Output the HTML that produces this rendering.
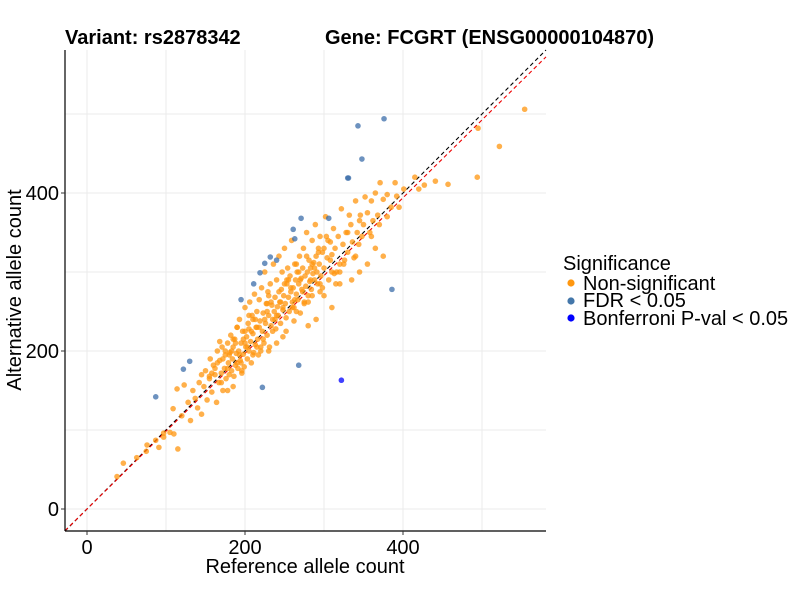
<!DOCTYPE html>
<html><head><meta charset="utf-8"><style>
body{margin:0;background:#fff;}
svg text{font-family:"Liberation Sans",Arial,sans-serif;}
</style></head><body>
<svg id="chart" width="800" height="600" xmlns="http://www.w3.org/2000/svg">
<rect width="800" height="600" fill="#fff"/>
<g id="grid"></g>
<g id="lines"></g>
<g id="pts"></g>
<g id="axes"></g>
<text x="65" y="44" font-size="20" font-weight="bold">Variant: rs2878342</text>
<text x="325" y="44" font-size="20" font-weight="bold">Gene: FCGRT (ENSG00000104870)</text>
<text x="305" y="573" font-size="20" text-anchor="middle">Reference allele count</text>
<text transform="translate(21,290) rotate(-90)" font-size="20" text-anchor="middle">Alternative allele count</text>
<g>
<text x="563" y="270" font-size="20">Significance</text>
<circle cx="571" cy="283" r="3.6" fill="#FF9710"/>
<text x="583" y="290" font-size="20">Non-significant</text>
<circle cx="571" cy="301" r="3.6" fill="#4477AA"/>
<text x="583" y="307" font-size="20">FDR &lt; 0.05</text>
<circle cx="571" cy="318" r="3.6" fill="#0000FF"/>
<text x="583" y="325" font-size="20">Bonferroni P-val &lt; 0.05</text>
</g>
</svg>
<script>
const orangeRef=[
38,46,63,75,76,87,91,97,97,105,
110,115,109,114,123,120,128,131,134,137,
140,142,145,148,150,152,155,156,158,160,
162,164,165,167,168,170,171,172,174,175,
176,178,179,180,181,182,183,184,185,186,
187,188,189,190,191,192,193,194,195,196,
197,198,199,200,201,202,203,204,205,206,
207,208,209,210,211,212,213,214,215,216,
217,218,219,220,221,222,223,224,225,226,
227,228,229,230,231,232,233,234,235,236,
237,238,239,240,241,242,243,244,245,246,
247,248,249,250,251,252,253,254,255,256,
257,258,259,260,261,262,263,264,265,266,
267,268,269,270,271,272,273,274,275,276,
277,278,279,280,281,282,283,284,285,286,
287,288,289,290,291,292,293,294,295,296,
298,300,302,304,306,308,310,312,314,316,
318,320,322,324,326,328,330,332,334,336,
338,340,342,344,346,348,350,352,355,358,
360,362,365,368,370,375,380,385,390,392,
395,371,401,415,420,427,441,457,494,495,
522,554,145,158,168,178,185,196,205,215,
228,240,252,262,270,285,300,315,330,345,
190,200,210,230,248,265,280,295,310,325,
300,310,320,335,345,355,365,375,290,280,
165,172,178,183,188,193,198,203,208,213,
218,223,228,233,238,243,248,253,258,263,
268,273,278,283,288,293,298,303,308,313,
170,180,190,200,210,220,230,240,250,260,
155,162,175,185,195,205,215,225,235,245,
255,265,275,285,295,305,320,340,360,380];
const orangeAlt=[
41,58,65,73,81,87,78,96,91,97,
95,76,127,152,157,118,135,112,150,140,
128,160,120,155,175,138,165,190,148,182,
170,135,200,160,188,172,205,150,178,195,
165,210,185,170,198,220,175,190,205,168,
215,182,197,230,178,200,240,188,210,172,
225,196,180,255,205,218,190,235,200,262,
212,185,245,222,198,272,208,230,250,215,
195,265,238,205,280,225,248,210,300,235,
260,220,275,245,205,285,232,258,240,310,
250,268,228,290,256,245,320,262,235,278,
300,252,270,330,260,242,285,305,268,250,
295,275,340,262,280,255,310,290,272,300,
265,285,320,248,292,278,305,330,262,295,
282,350,300,270,315,288,305,278,340,298,
312,290,360,320,300,285,330,310,345,295,
325,305,370,318,290,338,322,355,330,300,
345,310,380,335,315,350,325,372,360,338,
318,390,350,335,372,345,360,395,375,350,
390,365,400,372,360,392,398,382,413,396,
382,413,405,420,405,410,415,411,420,482,
459,506,170,172,212,150,155,175,245,230,
260,210,225,238,290,270,330,285,350,365,
230,225,195,200,218,250,262,275,300,310,
270,255,285,290,300,310,330,320,240,232,
185,190,178,200,210,195,215,205,225,240,
230,215,250,262,240,275,255,290,280,265,
300,275,320,290,305,325,280,345,315,298,
160,195,185,210,240,200,270,245,285,255,
168,178,200,215,185,228,205,240,225,262,
290,310,260,310,285,340,300,320,345,370];
const fdrRef=[343,376,348,330,331,306,271,261,263,232,225,240,219,211,195,386,130,122,87,268,222];
const fdrAlt=[485,494,443,419,419,368,368,354,342,319,311,315,299,285,265,278,187,177,142,182,154];
const bonfRef=[322];
const bonfAlt=[163];
const xTicks=[0,200,400];
const yTicks=[0,200,400];
const gridVals=[0,100,200,300,400,500];

const NS='http://www.w3.org/2000/svg';
const L=65,R=546,T=50,B=531;
const x=v=>87+v*0.79;
const y=v=>509-v*0.79;
function mk(tag,attrs,parent){const e=document.createElementNS(NS,tag);for(const k in attrs)e.setAttribute(k,attrs[k]);parent.appendChild(e);return e;}
const grid=document.getElementById('grid');
gridVals.forEach(v=>{
  const gx=mk('line',{x1:x(v),x2:x(v),y1:T,y2:B,stroke:'#ebebeb','stroke-width':1},grid);
  
  
  const gy=mk('line',{x1:L,x2:R,y1:y(v),y2:y(v),stroke:'#ebebeb','stroke-width':1},grid);
  
  
});
const lines=document.getElementById('lines');
const x0=(L-87)/0.79,x1=(R-87)/0.79;
const ln1=mk('line',{x1:x(x0),y1:y(x0),x2:x(x1),y2:y(x1),stroke:'#000','stroke-width':1.1,'stroke-dasharray':'4 3'},lines);


const sl=0.985;
const ln2=mk('line',{x1:x(x0),y1:y(x0*sl),x2:x(x1),y2:y(x1*sl),stroke:'#e00','stroke-width':1.1,'stroke-dasharray':'4 3'},lines);


const pts=document.getElementById('pts');
orangeRef.forEach((r,i)=>{
  const c=mk('circle',{cx:x(r),cy:y(orangeAlt[i]),r:2.8,fill:'rgba(255,150,15,0.75)'},pts);
  
  
});
fdrRef.forEach((r,i)=>{
  const c=mk('circle',{cx:x(r),cy:y(fdrAlt[i]),r:2.8,fill:'rgba(60,110,170,0.75)'},pts);
  
  
});
bonfRef.forEach((r,i)=>{
  const c=mk('circle',{cx:x(r),cy:y(bonfAlt[i]),r:2.8,fill:'rgba(30,30,255,0.85)'},pts);
  
  
});
const axes=document.getElementById('axes');
mk('line',{x1:L,x2:L,y1:T,y2:B,stroke:'#000','stroke-width':1.2},axes);
mk('line',{x1:L,x2:R,y1:B,y2:B,stroke:'#000','stroke-width':1.2},axes);
xTicks.forEach(v=>{
  mk('line',{x1:x(v),x2:x(v),y1:B,y2:B+4,stroke:'#333'},axes);
  const t=mk('text',{x:x(v),y:B+23,'font-size':20,'text-anchor':'middle'},axes);
  t.textContent=v;
  
  
});
yTicks.forEach(v=>{
  mk('line',{x1:L-4,x2:L,y1:y(v),y2:y(v),stroke:'#333'},axes);
  const t=mk('text',{x:L-6,y:y(v)+7,'font-size':20,'text-anchor':'end'},axes);
  t.textContent=v;
  
  
});
</script>
</body></html>
